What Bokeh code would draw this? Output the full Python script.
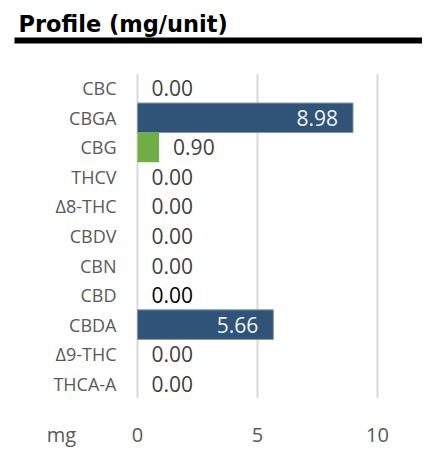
from bokeh.plotting import figure
from bokeh.layouts import column
from bokeh.models import ColumnDataSource, FactorRange, Range1d, FixedTicker
from bokeh.core.properties import value
from bokeh.embed import file_html
from bokeh.resources import INLINE

# ---- data ----
categories = ["CBC", "CBGA", "CBG", "THCV", "\u03948-THC", "CBDV", "CBN",
              "CBD", "CBDA", "\u03949-THC", "THCA-A"]
values_mg = [0.00, 8.98, 0.90, 0.00, 0.00, 0.00, 0.00, 0.00, 5.66, 0.00, 0.00]
bar_colors = ["#305478", "#305478", "#70ad47", "#305478", "#305478", "#305478",
              "#305478", "#305478", "#305478", "#305478", "#305478"]
x_ticks = [0, 5, 10]
title_text = "Profile (mg/unit)"
unit_text = "mg"

FONT = "Open Sans"
W = 422
TOP_H = 66
MAIN_H = 384
PX_PER_UNIT = 24.0
ZERO_PX = 137          # where x = 0 lies, in pixels from the left
UNIT_LABEL_PX = 61     # centre of the "mg" unit label

# ---- header: title + thick rule ----
top = figure(width=W, height=TOP_H, output_backend="svg", toolbar_location=None,
             x_range=Range1d(0, W), y_range=Range1d(TOP_H, 0),
             x_axis_location=None, y_axis_location=None,
             min_border=0)
top.outline_line_color = None
top.grid.visible = False
top.text(x=[18], y=[23], text=[title_text], text_font=value("DejaVu Sans"),
         text_font_style="bold", text_font_size="22.5px", text_color="black",
         text_align="left", text_baseline="alphabetic")
top.quad(left=[14], right=[W], top=[37], bottom=[43],
         fill_color="black", line_color=None)

# ---- main chart ----
x_start = -ZERO_PX / PX_PER_UNIT
x_end = (W - ZERO_PX) / PX_PER_UNIT
p = figure(width=W, height=MAIN_H, output_backend="svg", toolbar_location=None,
           y_range=FactorRange(factors=list(reversed(categories))),
           x_range=Range1d(x_start, x_end), y_axis_location=None,
           min_border_left=0, min_border_right=0,
           min_border_top=7, min_border_bottom=44)
p.outline_line_color = None

p.xgrid.ticker = FixedTicker(ticks=x_ticks)
p.xgrid.grid_line_color = "#d9d9d9"
p.xgrid.grid_line_width = 2
p.ygrid.grid_line_color = None

edge_alpha = [1.0 if (v > 0 and c == "#305478") else 0.0
              for v, c in zip(values_mg, bar_colors)]
src = ColumnDataSource(dict(cat=categories, val=values_mg, color=bar_colors,
                            ea=edge_alpha))
p.hbar(y="cat", left=0, right="val", height=1.0, source=src,
       fill_color="color", line_color="#8196ad", line_alpha="ea", line_width=1)

# category labels (left of the zero line)
p.text(x=0, y="cat", text="cat", source=src, x_offset=-21,
       text_align="right", text_baseline="middle", text_color="#595959",
       text_font=value(FONT), text_font_size="18px")

# value labels
inside = [v > 2 for v in values_mg]
lab_in = dict(cat=[c for c, i in zip(categories, inside) if i],
              x=[v for v, i in zip(values_mg, inside) if i],
              t=[f"{v:.2f}" for v, i in zip(values_mg, inside) if i])
lab_out = dict(cat=[c for c, i in zip(categories, inside) if not i],
               x=[v for v, i in zip(values_mg, inside) if not i],
               t=[f"{v:.2f}" for v, i in zip(values_mg, inside) if not i],
               tc=["#000000" if c == "CBD" else "#404040"
                   for c, i in zip(categories, inside) if not i])
p.text(x="x", y="cat", text="t", source=ColumnDataSource(lab_in),
       x_offset=-15, text_align="right", text_baseline="middle",
       text_color="#f2f2f2", text_font=value(FONT), text_font_size="21px")
p.text(x="x", y="cat", text="t", source=ColumnDataSource(lab_out),
       x_offset=14, text_align="left", text_baseline="middle",
       text_color="tc", text_font=value(FONT), text_font_size="21px")

# x axis: ticks 0/5/10 plus the unit label in the same row
unit_x = (UNIT_LABEL_PX - ZERO_PX) / PX_PER_UNIT
p.xaxis.ticker = FixedTicker(ticks=[unit_x] + x_ticks)
p.xaxis.major_label_overrides = {unit_x: unit_text}
p.xaxis.axis_line_color = None
p.xaxis.major_tick_line_color = None
p.xaxis.minor_tick_line_color = None
p.xaxis.major_label_text_font = FONT
p.xaxis.major_label_text_font_size = "20px"
p.xaxis.major_label_text_color = "#595959"
p.xaxis.major_label_standoff = 16

layout = column(top, p, spacing=0)
open("out.html", "w").write(file_html(layout, INLINE))
